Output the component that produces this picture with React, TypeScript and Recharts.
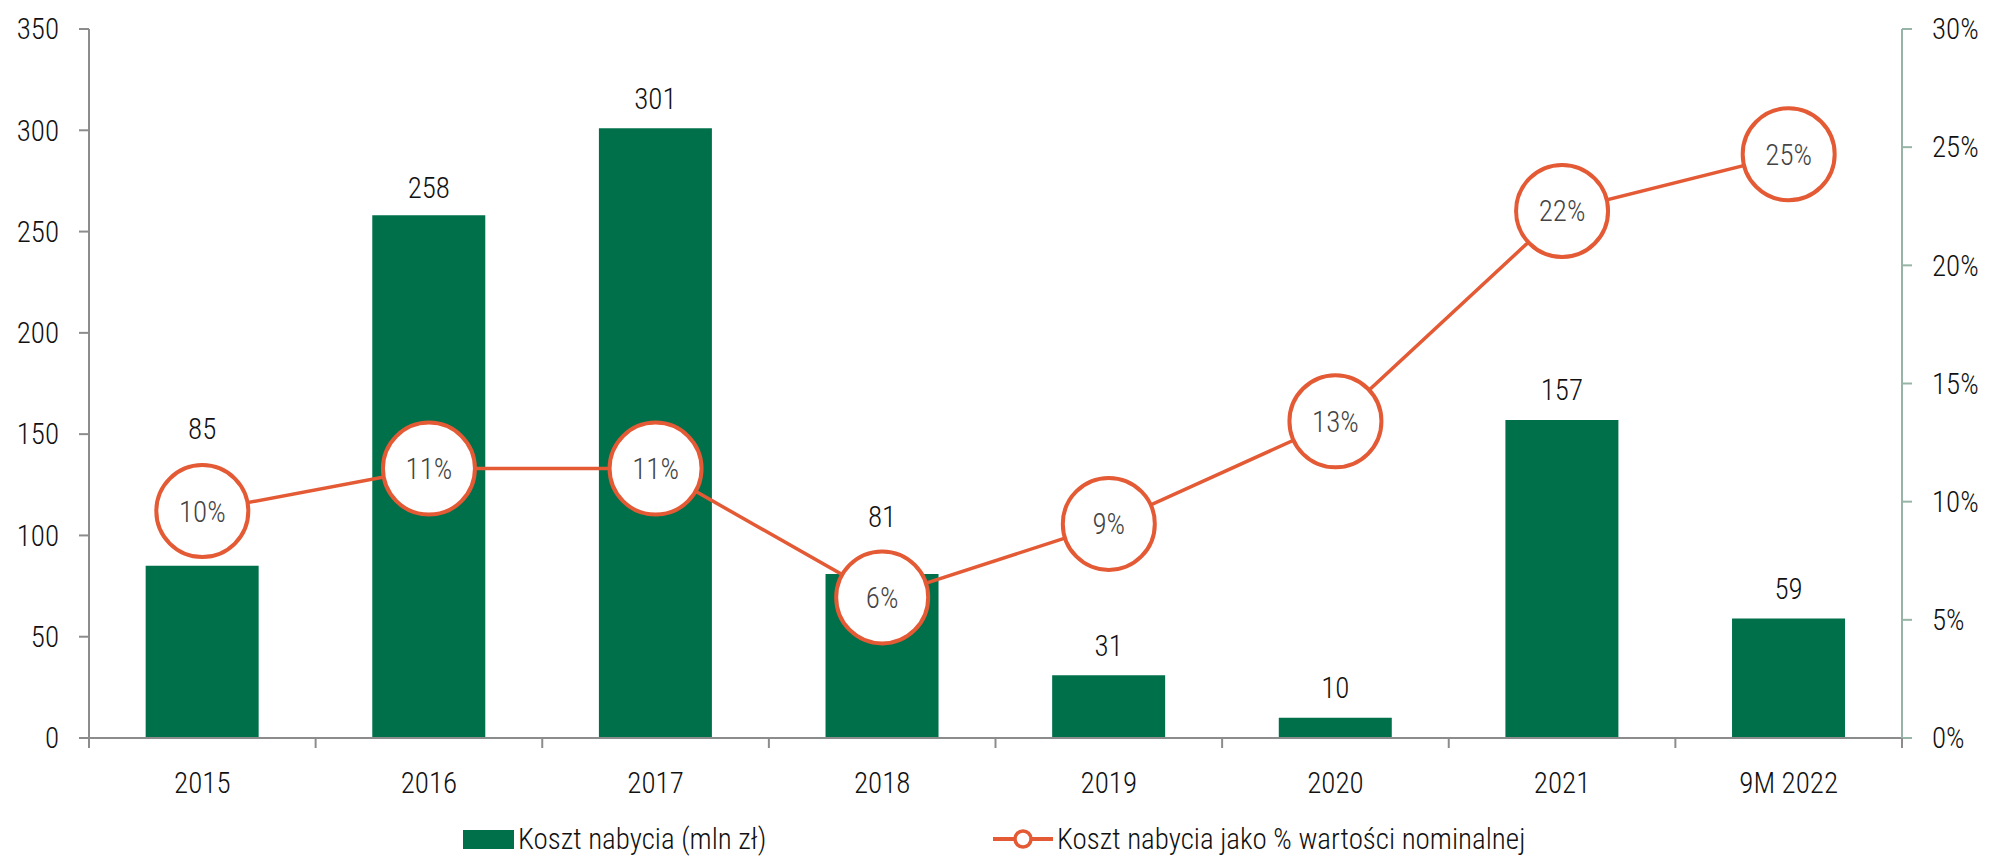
import { ComposedChart, Bar, Line, XAxis, YAxis, Legend, LabelList } from "recharts"

const years = ["2015", "2016", "2017", "2018", "2019", "2020", "2021", "9M 2022"]
const costMln = [85, 258, 301, 81, 31, 10, 157, 59]
const costPct = [9.6, 11.4, 11.4, 5.95, 9.06, 13.4, 22.3, 24.7]
const leftTicks = [0, 50, 100, 150, 200, 250, 300, 350]
const rightTicks = [0, 5, 10, 15, 20, 25, 30]
const costLabel = "Koszt nabycia (mln zł)"
const pctLabel = "Koszt nabycia jako % wartości nominalnej"

// how far above the bar top each value label sits (some are pushed up to clear the circles)
const labelLift = [137, 28, 30, 57, 30, 30, 30, 30]

const data = years.map((year, i) => ({ year, cost: costMln[i], pct: costPct[i] }))

const GREEN = "#00704a"
const ORANGE = "#e35a35"
const AXIS_GREY = "#8c8c8c"
const AXIS_GREEN = "#97b5a6"
const FONT = "'Liberation Sans Narrow', 'Roboto Condensed', 'DejaVu Sans Condensed', sans-serif"
const WEIGHT = 300

const PctDot = (props: any) => {
  const { cx, cy, payload, index } = props
  return (
    <g key={`dot-${index}`}>
      <circle cx={cx} cy={cy} r={46} fill="#fff" stroke={ORANGE} strokeWidth={4} />
      <text x={cx} y={cy} dy={10.5} textAnchor="middle" fontSize={29} fill="#444" fontFamily={FONT} fontWeight={WEIGHT}>
        {Math.round(payload.pct)}%
      </text>
    </g>
  )
}

const BarValueLabel = (props: any) => {
  const { x, y, width, value, index } = props
  return (
    <text x={x + width / 2} y={y - labelLift[index] + 10.5} textAnchor="middle" fontSize={29} fill="#111" fontFamily={FONT} fontWeight={WEIGHT}>
      {value}
    </text>
  )
}

const YearTick = (props: any) => {
  const { x, y, payload, index, visibleTicksCount } = props
  const half = payload.offset ?? 0
  return (
    <g>
      <line x1={x - half} x2={x - half} y1={y} y2={y + 10} stroke={AXIS_GREY} strokeWidth={2} />
      {index === visibleTicksCount - 1 && (
        <line x1={x + half} x2={x + half} y1={y} y2={y + 10} stroke={AXIS_GREY} strokeWidth={2} />
      )}
      <text x={x} y={y + 55} textAnchor="middle" fontSize={29} fill="#111" fontFamily={FONT} fontWeight={WEIGHT}>
        {payload.value}
      </text>
    </g>
  )
}

const LegendBox = () => (
  <div style={{ position: "relative", height: 49, fontFamily: FONT, fontWeight: WEIGHT, fontSize: 29, color: "#111" }}>
    <div style={{ position: "absolute", left: 463, top: 14, display: "flex", alignItems: "center" }}>
      <span style={{ display: "inline-block", width: 51, height: 19, background: GREEN, marginRight: 4 }} />
      <span>{costLabel}</span>
    </div>
    <div style={{ position: "absolute", left: 993, top: 14, display: "flex", alignItems: "center" }}>
      <svg width={60} height={24} style={{ marginRight: 4 }}>
        <line x1={0} x2={60} y1={12} y2={12} stroke={ORANGE} strokeWidth={4} />
        <circle cx={30} cy={12} r={8} fill="#fff" stroke={ORANGE} strokeWidth={3.5} />
      </svg>
      <span>{pctLabel}</span>
    </div>
  </div>
)

export default function App() {
  return (
    <div style={{ width: 1989, height: 857, background: "#fff" }}>
      <style>{`body { margin: 0; }`}</style>
      <ComposedChart
        width={1989}
        height={857}
        data={data}
        margin={{ top: 29, right: 0, bottom: 0, left: 0 }}
        barCategoryGap="25%"
        style={{ fontFamily: FONT }}
      >
        <XAxis
          dataKey="year"
          height={70}
          tickLine={false}
          tickSize={0}
          tickMargin={0}
          axisLine={{ stroke: AXIS_GREY, strokeWidth: 2 }}
          tick={<YearTick />}
          interval={0}
        />
        <YAxis
          yAxisId="left"
          width={89}
          domain={[0, 350]}
          ticks={leftTicks}
          tickSize={10}
          tickMargin={20}
          axisLine={{ stroke: AXIS_GREY, strokeWidth: 2 }}
          tickLine={{ stroke: AXIS_GREY, strokeWidth: 2 }}
          tick={{ fontSize: 29, fill: "#111", fontFamily: FONT, fontWeight: WEIGHT }}
        />
        <YAxis
          yAxisId="right"
          orientation="right"
          width={87}
          domain={[0, 30]}
          ticks={rightTicks}
          tickSize={10}
          tickMargin={20}
          tickFormatter={(v) => `${v}%`}
          axisLine={{ stroke: AXIS_GREEN, strokeWidth: 2 }}
          tickLine={{ stroke: AXIS_GREEN, strokeWidth: 2 }}
          tick={{ fontSize: 29, fill: "#111", fontFamily: FONT, fontWeight: WEIGHT }}
        />
        <Legend verticalAlign="bottom" height={49} content={<LegendBox />} />
        <Bar yAxisId="left" dataKey="cost" name={costLabel} fill={GREEN} isAnimationActive={false}>
          <LabelList dataKey="cost" content={<BarValueLabel />} />
        </Bar>
        <Line
          yAxisId="right"
          dataKey="pct"
          name={pctLabel}
          stroke={ORANGE}
          strokeWidth={3.5}
          dot={<PctDot />}
          activeDot={false}
          isAnimationActive={false}
        />
      </ComposedChart>
    </div>
  )
}
